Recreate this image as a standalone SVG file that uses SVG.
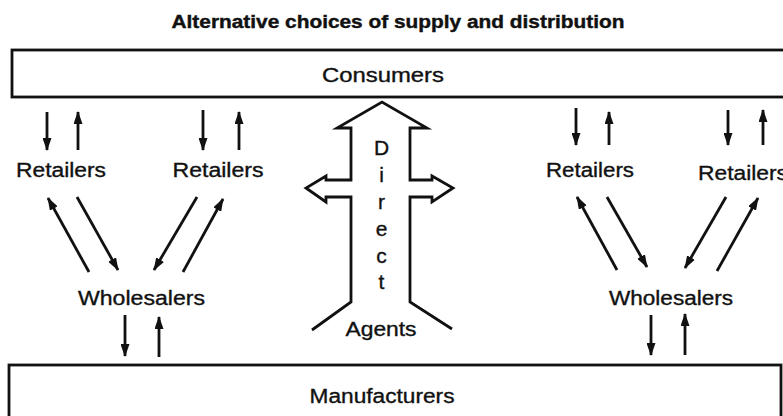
<svg xmlns="http://www.w3.org/2000/svg" width="783" height="416" viewBox="0 0 783 416">
<style>
.t{font-family:"Liberation Sans",Arial,sans-serif;font-size:20px;fill:#111;stroke:#111;stroke-width:0.35;text-anchor:middle}
.ti{font-family:"Liberation Sans",Arial,sans-serif;font-size:18px;font-weight:bold;fill:#111;stroke:#111;stroke-width:0.4;text-anchor:middle}
.box{fill:none;stroke:#111;stroke-width:2.8}
.a{stroke:#111;stroke-width:2.8;fill:none;marker-end:url(#ah)}
.out{fill:none;stroke:#111;stroke-width:2.8;stroke-linejoin:miter}
</style>
<defs>
<marker id="ah" markerUnits="userSpaceOnUse" markerWidth="13" markerHeight="9" refX="12" refY="4.5" orient="auto">
<path d="M0,0 L13,4.5 L0,9 z" fill="#111"/>
</marker>
</defs>
<rect width="783" height="416" fill="#fff"/>
<text class="ti" x="398" y="28" textLength="453" lengthAdjust="spacingAndGlyphs">Alternative choices of supply and distribution</text>
<g id="consumers">
<rect class="box" x="12" y="50" width="790" height="47"/>
<text class="t" x="383" y="82" textLength="122" lengthAdjust="spacingAndGlyphs">Consumers</text>
</g>
<g id="manufacturers">
<rect class="box" x="9" y="365" width="772" height="70"/>
<text class="t" x="382" y="403" textLength="145" lengthAdjust="spacingAndGlyphs">Manufacturers</text>
</g>
<g id="retailers1"><text class="t" x="61" y="177" textLength="90" lengthAdjust="spacingAndGlyphs">Retailers</text></g>
<g id="retailers2"><text class="t" x="218" y="177" textLength="91" lengthAdjust="spacingAndGlyphs">Retailers</text></g>
<g id="retailers3"><text class="t" x="590" y="177" textLength="88" lengthAdjust="spacingAndGlyphs">Retailers</text></g>
<g id="retailers4"><text class="t" x="743" y="180" textLength="90" lengthAdjust="spacingAndGlyphs">Retailers</text></g>
<g id="wholesalers1"><text class="t" x="141.5" y="305" textLength="127" lengthAdjust="spacingAndGlyphs">Wholesalers</text></g>
<g id="wholesalers2"><text class="t" x="671" y="305" textLength="124" lengthAdjust="spacingAndGlyphs">Wholesalers</text></g>
<g id="direct">
<path class="out" d="M312,330 L351,302 L351,197 L326,197 L326,202 L306,188 L326,176 L326,180 L351,180 L351,128 L337,128 L382,102 L427,128 L410,128 L410,180 L432,180 L432,176 L453,188 L432,202 L432,197 L410,197 L410,302 L452,329"/>
<text class="t" x="381.5" y="155" style="font-size:21px">D</text>
<text class="t" x="381.5" y="182" style="font-size:21px">i</text>
<text class="t" x="381.5" y="209" style="font-size:21px">r</text>
<text class="t" x="381.5" y="236" style="font-size:21px">e</text>
<text class="t" x="381.5" y="263" style="font-size:21px">c</text>
<text class="t" x="381.5" y="289" style="font-size:21px">t</text>
</g>
<g id="agents"><text class="t" x="381" y="336" textLength="71" lengthAdjust="spacingAndGlyphs">Agents</text></g>
<g id="connectors">
<line class="a" x1="47" y1="112" x2="47" y2="150"/>
<line class="a" x1="78" y1="150" x2="78" y2="112"/>
<line class="a" x1="203" y1="110" x2="203" y2="150"/>
<line class="a" x1="239" y1="150" x2="239" y2="112"/>
<line class="a" x1="576" y1="108" x2="576" y2="145"/>
<line class="a" x1="609" y1="145" x2="609" y2="112"/>
<line class="a" x1="728" y1="110" x2="728" y2="145"/>
<line class="a" x1="763" y1="145" x2="763" y2="110"/>
<line class="a" x1="89" y1="272" x2="48" y2="198"/>
<line class="a" x1="77" y1="197" x2="118" y2="270"/>
<line class="a" x1="197" y1="197" x2="154" y2="270"/>
<line class="a" x1="183" y1="272" x2="223" y2="199"/>
<line class="a" x1="617" y1="270" x2="577" y2="197"/>
<line class="a" x1="607" y1="197" x2="647" y2="267"/>
<line class="a" x1="726" y1="197" x2="685" y2="268"/>
<line class="a" x1="717" y1="271" x2="758" y2="198"/>
<line class="a" x1="125" y1="315" x2="125" y2="356"/>
<line class="a" x1="159" y1="357" x2="159" y2="317"/>
<line class="a" x1="651" y1="315" x2="651" y2="355"/>
<line class="a" x1="685" y1="355" x2="685" y2="314"/>
</g>
</svg>
